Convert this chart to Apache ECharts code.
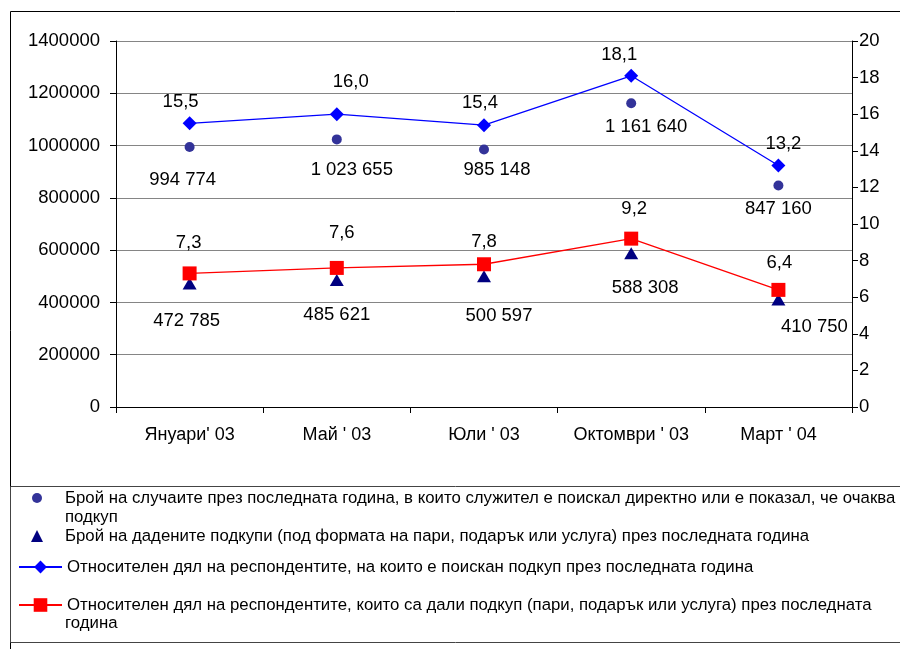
<!DOCTYPE html>
<html>
<head>
<meta charset="utf-8">
<script src="https://cdn.jsdelivr.net/npm/echarts@6/dist/echarts.min.js"></script>
<style>
html,body{margin:0;padding:0;background:#fff;}
#chart{width:900px;height:649px;}
</style>
</head>
<body>
<div id="chart"></div>
<script>
const categories = ["Януари' 03", "Май ' 03", "Юли ' 03", "Октомври ' 03", "Март ' 04"];
const casesAsked = [994774, 1023655, 985148, 1161640, 847160];
const bribesGiven = [472785, 485621, 500597, 588308, 410750];
const shareAsked = [15.5, 16.0, 15.4, 18.1, 13.2];
const shareGave = [7.3, 7.6, 7.8, 9.2, 6.4];
const leftTicks = {min: 0, max: 1400000, interval: 200000};
const rightTicks = {min: 0, max: 20, interval: 2};
const seriesNames = [
  "Брой на случаите през последната година, в които служител е поискал директно или е показал, че очаква",
  "Брой на дадените подкупи (под формата на пари, подарък или услуга) през последната година",
  "Относителен дял на респондентите, на които е поискан подкуп през последната година",
  "Относителен дял на респондентите, които са дали подкуп (пари, подарък или услуга) през последната"
];

// label placement (style only)
const offCases = [[-7, 33], [15, 31], [13, 20], [15, 24], [0, 23]];
const offBribes = [[-3, 38], [0, 35], [15, 40], [14, 35], [36, 27]];
const offShareA = [[-9, -21], [14, -32], [-4, -22], [-12, -21], [5, -22]];
const offShareG = [[-1, -31], [5, -35], [0, -22], [3, -30], [1, -27]];

const FONT = "'Liberation Sans', Arial, sans-serif";
const LEGEND_FS = 16.8;
const FS = 18.5;
const fmtInt = v => String(v).replace(/\B(?=(\d{3})+(?!\d))/g, ' ');
const fmtPct = v => v.toFixed(1).replace('.', ',');

function withLabels(vals, offs, fmt) {
  return vals.map((v, i) => ({
    value: v,
    label: {offset: offs[i], formatter: () => fmt(v)}
  }));
}
const labelBase = {show: true, position: 'inside', color: '#000', fontSize: FS, fontFamily: FONT};
const legendText = extraPad => ({fontSize: LEGEND_FS, color: '#000', lineHeight: 20, fontFamily: FONT,
  padding: [0, 0, 0, extraPad]});

const chart = echarts.init(document.getElementById('chart'));
chart.setOption({
  backgroundColor: '#fff',
  animation: false,
  textStyle: {fontFamily: FONT},
  grid: {left: 116, right: 48, top: 41, bottom: 242, containLabel: false},
  xAxis: {
    type: 'category', data: categories, boundaryGap: true,
    axisLine: {lineStyle: {color: '#000', width: 1}},
    axisTick: {show: true, interval: 0, length: 6, lineStyle: {color: '#000'}},
    axisLabel: {color: '#000', fontSize: 18, interval: 0, hideOverlap: false, margin: 19, fontFamily: FONT}
  },
  yAxis: [
    {type: 'value', min: leftTicks.min, max: leftTicks.max, interval: leftTicks.interval,
     axisLine: {show: true, lineStyle: {color: '#000'}},
     axisTick: {show: true, length: 6, lineStyle: {color: '#000'}},
     axisLabel: {color: '#000', fontSize: FS, margin: 16, fontFamily: FONT, formatter: v => String(v)},
     splitLine: {show: true, lineStyle: {color: '#858585', width: 1}}},
    {type: 'value', min: rightTicks.min, max: rightTicks.max, interval: rightTicks.interval,
     position: 'right',
     axisLine: {show: true, lineStyle: {color: '#000'}},
     axisTick: {show: true, length: 6, lineStyle: {color: '#000'}},
     axisLabel: {color: '#000', fontSize: FS, margin: 7, fontFamily: FONT, formatter: v => String(v)},
     splitLine: {show: false}}
  ],
  legend: [
    {data: [seriesNames[0]], left: 32, top: 488, padding: 0, orient: 'vertical', itemWidth: 10, itemHeight: 10,
     textStyle: legendText(18)},
    {data: [seriesNames[1]], left: 31, top: 526, padding: 0, orient: 'vertical', itemWidth: 12, itemHeight: 12,
     textStyle: legendText(17)},
    {data: [seriesNames[2]], left: 18, top: 557, padding: 0, orient: 'vertical', itemWidth: 43, itemHeight: 16,
     textStyle: legendText(0)},
    {data: [seriesNames[3]], left: 18, top: 595, padding: 0, orient: 'vertical', itemWidth: 43, itemHeight: 17,
     textStyle: legendText(0)}
  ],
  graphic: [
    {type: 'rect', left: 8, top: 9, shape: {width: 1000, height: 1000}, silent: true, z: -1,
     style: {fill: 'none', stroke: '#000', lineWidth: 1}},
    {type: 'rect', left: 8, top: 484, shape: {width: 890, height: 156}, silent: true, z: -1,
     style: {fill: 'none', stroke: '#444', lineWidth: 1}},
    {type: 'text', left: 65, top: 509, style: {text: 'подкуп', font: LEGEND_FS + 'px ' + FONT, fill: '#000'}},
    {type: 'text', left: 65, top: 615, style: {text: 'година', font: LEGEND_FS + 'px ' + FONT, fill: '#000'}}
  ],
  series: [
    {name: seriesNames[0], type: 'scatter', yAxisIndex: 0, symbol: 'circle', symbolSize: 10,
     itemStyle: {color: '#333399', opacity: 1}, label: labelBase, z: 3,
     data: withLabels(casesAsked, offCases, fmtInt)},
    {name: seriesNames[1], type: 'scatter', yAxisIndex: 0, symbol: 'triangle', symbolSize: [14, 12],
     itemStyle: {color: '#000080', opacity: 1}, label: labelBase, z: 3,
     data: withLabels(bribesGiven, offBribes, fmtInt)},
    {name: seriesNames[2], type: 'line', yAxisIndex: 1, symbol: 'diamond', symbolSize: 14,
     lineStyle: {color: '#0000FF', width: 1.3}, itemStyle: {color: '#0000FF'}, label: labelBase, z: 4,
     data: withLabels(shareAsked, offShareA, fmtPct)},
    {name: seriesNames[3], type: 'line', yAxisIndex: 1, symbol: 'rect', symbolSize: 14,
     lineStyle: {color: '#FF0000', width: 1.3}, itemStyle: {color: '#FF0000'}, label: labelBase, z: 4,
     data: withLabels(shareGave, offShareG, fmtPct)}
  ]
});
</script>
</body>
</html>
